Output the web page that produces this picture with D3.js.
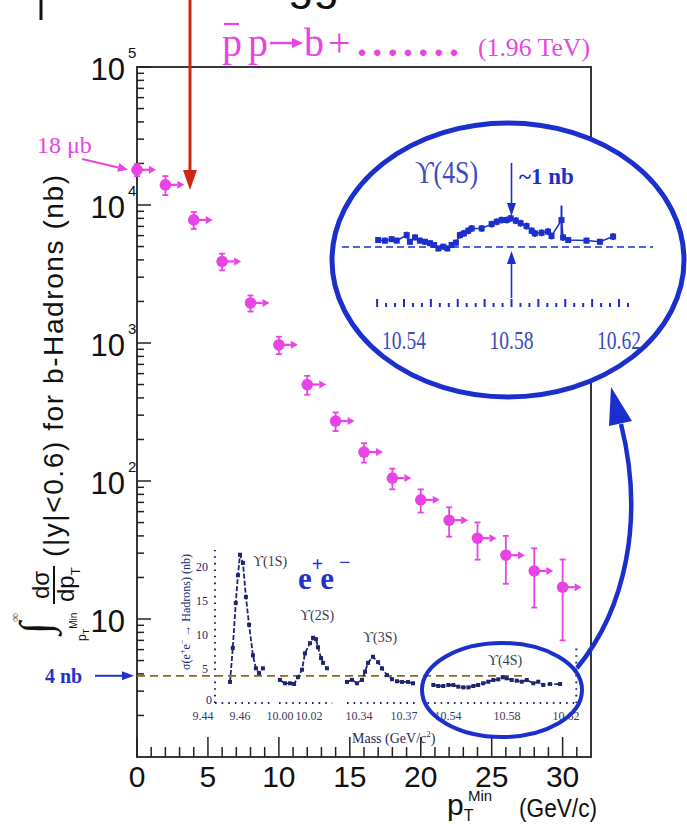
<!DOCTYPE html>
<html>
<head>
<meta charset="utf-8">
<script src="https://cdn.jsdelivr.net/npm/d3@7"></script>
<style>
  body { margin: 0; background: #fff; }
  svg { display: block; }
</style>
</head>
<body>
<svg id="chart"></svg>
<script>
// ---------------- data ----------------
// b-hadron cross section above pT min (nb)
let ptMin = [0, 2, 4, 6, 8, 10, 12, 14, 16, 18, 20, 22, 24, 26, 28, 30]
let sigma = [18000, 14000, 7800, 3900, 1950, 970, 500, 272, 162, 105, 73, 52, 38.5, 29, 22.3, 17]
let sigmaErr = [1800, 2200, 1100, 540, 260, 140, 78, 42, 26, 18, 14, 12.5, 11.6, 11, 10.2, 10]
let yTickExp = [1, 2, 3, 4, 5]
let xTickLabels = [0, 5, 10, 15, 20, 25, 30]

// e+e- -> hadrons scan (inset), mass in GeV, sigma in nb
let mass1S = [9.4546, 9.4561, 9.4577, 9.4589, 9.4600, 9.4616, 9.4632, 9.4649, 9.4670, 9.4686, 9.4703, 9.4724]
let sig1S = [3.1, 8.1, 14.7, 18.8, 21.8, 20.6, 15.6, 11.5, 7.0, 5.1, 4.4, 5.1]
let mass2S = [9.9993, 10.0034, 10.0069, 10.0097, 10.0124, 10.0152, 10.0172, 10.0207, 10.0228, 10.0248, 10.0262, 10.0283, 10.0297, 10.0324]
let sig2S = [3.4, 2.9, 2.9, 2.8, 3.8, 4.9, 7.3, 8.8, 9.6, 9.4, 8.2, 6.6, 5.9, 5.1]
let mass3S = [10.332, 10.3353, 10.3387, 10.342, 10.344, 10.346, 10.3493, 10.3527, 10.3553, 10.3587, 10.362, 10.3653, 10.3687, 10.3727, 10.376]
let sig3S = [3.1, 3.4, 2.9, 3.4, 4.6, 5.9, 6.8, 6.0, 5.1, 4.1, 3.5, 3.2, 3.1, 3.1, 2.9]
let mass4S = [10.530, 10.5334, 10.5368, 10.5402, 10.5436, 10.547, 10.5504, 10.5538, 10.5572, 10.5605, 10.5639, 10.5673, 10.5707, 10.5741, 10.5771, 10.5798, 10.5832, 10.5866, 10.59, 10.5934, 10.5978, 10.6012, 10.6046, 10.6092, 10.616]
let sig4S = [2.65, 2.5, 2.5, 2.65, 2.65, 2.4, 2.3, 2.3, 2.5, 2.65, 2.9, 3.13, 3.38, 3.48, 3.78, 3.63, 3.38, 3.28, 3.13, 3.38, 2.9, 3.13, 2.65, 2.79, 2.79]
let insetYTicks = [0, 5, 10, 15, 20]
let massTickLabels = ['9.44', '9.46', '10.00', '10.02', '10.34', '10.37', '10.54', '10.58', '10.62']
let peakLabels = ['1S', '2S', '3S', '4S']

// magnified Upsilon(4S) region
let zoomMass = [10.5304, 10.5329, 10.5354, 10.5373, 10.5410, 10.5422, 10.5441, 10.5459, 10.5478, 10.5497, 10.5512, 10.5528, 10.5546, 10.5561, 10.5577, 10.5593, 10.5608, 10.5623, 10.5639, 10.5652, 10.5689, 10.5726, 10.5745, 10.5763, 10.5782, 10.5797, 10.5816, 10.5834, 10.5856, 10.5875, 10.5887, 10.5912, 10.5936, 10.5949, 10.5986, 10.5992, 10.6011, 10.6079, 10.6129, 10.6178]
let zoomSig = [4.24, 4.22, 4.27, 4.22, 4.41, 4.18, 4.33, 4.22, 4.18, 4.13, 4.07, 3.95, 4.01, 3.95, 4.07, 4.15, 4.41, 4.47, 4.56, 4.64, 4.64, 4.79, 4.87, 4.93, 4.93, 4.99, 4.91, 4.82, 4.72, 4.56, 4.47, 4.49, 4.53, 4.38, 4.93, 4.33, 4.24, 4.22, 4.18, 4.36]
let zoomErr = [0.1, 0.1, 0.1, 0.1, 0.12, 0.1, 0.1, 0.1, 0.1, 0.1, 0.1, 0.1, 0.1, 0.1, 0.1, 0.1, 0.12, 0.12, 0.12, 0.12, 0.12, 0.12, 0.12, 0.12, 0.12, 0.12, 0.12, 0.12, 0.12, 0.12, 0.12, 0.12, 0.12, 0.12, 0.5, 0.12, 0.1, 0.1, 0.1, 0.12]
let zoomTickLabels = ['10.54', '10.58', '10.62']

// ---------------- drawing ----------------
let width = 687
let height = 827
let magenta = '#e844e4'
let blue = '#1b2fcc'
let navy = '#1e2470'
let sans = "'Liberation Sans Narrow', 'Arial Narrow', 'Liberation Sans', Arial, sans-serif"
let serif = "'Liberation Serif', 'Times New Roman', 'DejaVu Serif', serif"

let svg = d3.select('#chart').attr('width', width).attr('height', height)

let arrow = (g, x1, y1, x2, y2, color, w, hl, hw) => {
  let a = Math.atan2(y2 - y1, x2 - x1)
  let bx = x2 - hl * Math.cos(a), by = y2 - hl * Math.sin(a)
  g.append('line').attr('x1', x1).attr('y1', y1).attr('x2', bx).attr('y2', by)
    .attr('stroke', color).attr('stroke-width', w)
  let px = -Math.sin(a) * hw / 2, py = Math.cos(a) * hw / 2
  g.append('path')
    .attr('d', `M${x2},${y2}L${bx + px},${by + py}L${bx - px},${by - py}Z`)
    .attr('fill', color)
}

// main scales
let xScale = d3.scaleLinear().domain([0, 32]).range([137, 591])
let yScale = d3.scaleLog().domain([1, 1e5]).range([757, 67])

// cut-off title remnants at the very top
svg.append('line').attr('x1', 41).attr('y1', 0).attr('x2', 41).attr('y2', 20)
  .attr('stroke', '#111').attr('stroke-width', 3)
svg.append('text').attr('x', 288).attr('y', -1).attr('font-family', sans)
  .attr('font-size', 46).attr('fill', '#111').text('gg')

// frame
svg.append('rect').attr('x', xScale(0)).attr('y', yScale(1e5))
  .attr('width', xScale(32) - xScale(0)).attr('height', yScale(1) - yScale(1e5))
  .attr('fill', 'none').attr('stroke', '#222').attr('stroke-width', 1.8)

// x ticks
let xt = svg.append('g')
d3.range(0, 32).forEach(v => {
  let len = v % 5 === 0 ? 20 : 10
  xt.append('line').attr('x1', xScale(v)).attr('x2', xScale(v))
    .attr('y1', yScale(1)).attr('y2', yScale(1) - len)
    .attr('stroke', '#222').attr('stroke-width', 1.5)
})
xTickLabels.forEach(v => {
  svg.append('text').attr('x', xScale(v)).attr('y', 787)
    .attr('text-anchor', 'middle').attr('font-family', sans).attr('font-size', 30)
    .attr('fill', '#111').text(v)
})

// y ticks
let yt = svg.append('g')
yScale.ticks().forEach(v => {
  let major = Math.abs(Math.log10(v) - Math.round(Math.log10(v))) < 1e-9
  if (v === 1) return
  yt.append('line').attr('x1', xScale(0)).attr('x2', xScale(0) + (major ? 14 : 7))
    .attr('y1', yScale(v)).attr('y2', yScale(v))
    .attr('stroke', '#222').attr('stroke-width', 1.5)
})
yTickExp.forEach(e => {
  let yy = yScale(Math.pow(10, e))
  svg.append('text').attr('x', 125).attr('y', yy + 13)
    .attr('text-anchor', 'end').attr('font-family', sans).attr('font-size', 31)
    .attr('fill', '#111').text('10')
  if (e > 1) {
    svg.append('text').attr('x', 128).attr('y', yy - 9)
      .attr('font-family', sans).attr('font-size', 15)
      .attr('fill', '#111').text(e)
  }
})

// y axis title (rotated)
let yl = svg.append('g').attr('transform', 'rotate(-90)').attr('fill', '#111')
yl.append('text').attr('x', -557).attr('y', 63)
  .attr('font-family', sans).attr('font-size', 28)
  .attr('textLength', 382).attr('lengthAdjust', 'spacing')
  .text('(|y|<0.6) for b-Hadrons (nb)')
yl.append('text').attr('x', -585).attr('y', 49).attr('text-anchor', 'middle')
  .attr('font-family', sans).attr('font-size', 24).text('dσ')
yl.append('line').attr('x1', -604).attr('x2', -566).attr('y1', 54).attr('y2', 54)
  .attr('stroke', '#111').attr('stroke-width', 2)
let dp = yl.append('text').attr('x', -602).attr('y', 74)
  .attr('font-family', sans).attr('font-size', 24)
dp.append('tspan').text('dp')
dp.append('tspan').attr('font-size', 13).attr('dy', 6).text('T')
yl.append('text').attr('x', -634).attr('y', 50)
  .attr('font-family', serif).attr('font-size', 44).text('∫')
yl.append('text').attr('x', -622).attr('y', 19)
  .attr('font-family', serif).attr('font-size', 13).attr('fill', '#666').text('∞')
let lim = yl.append('text').attr('x', -641).attr('y', 86)
  .attr('font-family', sans).attr('font-size', 12)
lim.append('tspan').text('p')
lim.append('tspan').attr('font-size', 9).attr('dy', 3).text('T')
lim.append('tspan').attr('font-size', 10).attr('dy', -12).text('Min')

// x axis title
let xl = svg.append('text').attr('y', 815)
  .attr('font-family', sans).attr('font-size', 30).attr('fill', '#111')
xl.append('tspan').attr('x', 447).text('p')
xl.append('tspan').attr('font-size', 16).attr('dy', 6).text('T')
xl.append('tspan').attr('x', 468).attr('font-size', 15).attr('dy', -20).text('Min')
xl.append('tspan').attr('x', 519).attr('dy', 16).attr('font-size', 26)
  .attr('textLength', 78).attr('lengthAdjust', 'spacingAndGlyphs').text('(GeV/c)')

// ---------------- inset: e+e- scan ----------------
let insetX = d3.scaleLinear()
  .domain([9.44, 9.46, 9.48, 9.99, 10.00, 10.02, 10.04, 10.33, 10.34, 10.37, 10.38, 10.525, 10.54, 10.58, 10.62])
  .range([203, 240, 277, 278, 280, 309, 338, 344, 359, 404, 419, 426, 448, 507, 566])
let insetY = d3.scaleLinear().domain([0, 20]).range([703, 567])

let inset = svg.append('g')
// dotted axes
let axSegs = [[9.4465, 9.476], [9.995, 10.036], [10.332, 10.38], [10.526, 10.627]]
axSegs.forEach(s => {
  inset.append('line').attr('x1', insetX(s[0])).attr('x2', insetX(s[1]))
    .attr('y1', insetY(0)).attr('y2', insetY(0))
    .attr('stroke', navy).attr('stroke-width', 2).attr('stroke-dasharray', '1.6,5')
})
inset.append('line').attr('x1', insetX(9.4465)).attr('x2', insetX(9.4465))
  .attr('y1', insetY(0)).attr('y2', insetY(22.5))
  .attr('stroke', navy).attr('stroke-width', 2).attr('stroke-dasharray', '1.6,5')
inset.append('line').attr('x1', insetX(10.627)).attr('x2', insetX(10.627))
  .attr('y1', insetY(0)).attr('y2', insetY(8.5))
  .attr('stroke', navy).attr('stroke-width', 2).attr('stroke-dasharray', '1.6,5')

insetYTicks.forEach(v => {
  inset.append('text').attr('x', v === 0 ? 212 : 208).attr('y', insetY(v) + (v === 0 ? 1 : 4))
    .attr('text-anchor', 'end').attr('font-family', serif).attr('font-size', 12)
    .attr('fill', navy).text(v)
})
massTickLabels.forEach(t => {
  inset.append('text').attr('x', insetX(+t)).attr('y', 720)
    .attr('text-anchor', 'middle').attr('font-family', serif).attr('font-size', 12)
    .attr('fill', '#3a3a66').text(t)
})
let ml = inset.append('text').attr('x', 352).attr('y', 743)
  .attr('font-family', serif).attr('font-size', 14).attr('fill', '#2a2a55')
ml.append('tspan').text('Mass (GeV/c')
ml.append('tspan').attr('font-size', 9).attr('dy', -6).text('2')
ml.append('tspan').attr('dy', 6).text(')')

let il = inset.append('text').attr('transform', 'translate(190,612) rotate(-90)')
  .attr('text-anchor', 'middle').attr('font-family', serif).attr('font-size', 12)
  .attr('fill', navy)
il.append('tspan').text('σ(e')
il.append('tspan').attr('font-size', 8).attr('dy', -5).text('+')
il.append('tspan').attr('dy', 5).text('e')
il.append('tspan').attr('font-size', 8).attr('dy', -5).text('−')
il.append('tspan').attr('dy', 5).text(' → Hadrons) (nb)')

// 4 nb reference line
inset.append('line').attr('x1', xScale(0)).attr('x2', insetX(10.591))
  .attr('y1', insetY(4)).attr('y2', insetY(4))
  .attr('stroke', '#8a6a1c').attr('stroke-width', 1.8).attr('stroke-dasharray', '8,5')

let scans = [[mass1S, sig1S], [mass2S, sig2S], [mass3S, sig3S], [mass4S, sig4S]]
let scanLine = d3.line().x(d => insetX(d[0])).y(d => insetY(d[1]))
scans.forEach(s => {
  let pts = s[0].map((m, i) => [m, s[1][i]])
  inset.append('path').attr('d', scanLine(pts)).attr('fill', 'none')
    .attr('stroke', navy).attr('stroke-width', 1.8).attr('stroke-dasharray', '5,2')
  inset.selectAll(null).data(pts).enter().append('rect')
    .attr('x', d => insetX(d[0]) - 2).attr('y', d => insetY(d[1]) - 2)
    .attr('width', 4).attr('height', 4).attr('fill', navy)
})

let peakPos = [[253, 566], [300, 620], [363, 642], [488, 665]]
peakLabels.forEach((p, i) => {
  inset.append('text').attr('x', peakPos[i][0]).attr('y', peakPos[i][1])
    .attr('font-family', serif).attr('font-size', 14).attr('fill', '#3a3a4a')
    .text('ϒ(' + p + ')')
})
let ee = inset.append('text').attr('x', 298).attr('y', 589)
  .attr('font-family', serif).attr('font-weight', 'bold').attr('font-size', 31).attr('fill', '#2233cc')
ee.append('tspan').text('e')
ee.append('tspan').attr('font-size', 20).attr('dy', -18).text('+')
ee.append('tspan').attr('dx', -3).attr('dy', 18).text('e')
ee.append('tspan').attr('font-size', 20).attr('dx', 5).attr('dy', -20).text('−')

// small ellipse around Upsilon(4S)
svg.append('ellipse').attr('cx', 502).attr('cy', 690).attr('rx', 80).attr('ry', 47)
  .attr('fill', 'none').attr('stroke', blue).attr('stroke-width', 4)

// curved arrow to magnified view
svg.append('path').attr('d', 'M577,668 C625,610 645,520 621,424')
  .attr('fill', 'none').attr('stroke', blue).attr('stroke-width', 4.5)
svg.append('path').attr('d', 'M611,387 L632,421 L609,426 Z').attr('fill', blue)

// ---------------- main data ----------------
let pts = ptMin.map((p, i) => ({ p: p, v: sigma[i], e: sigmaErr[i] }))
let dg = svg.append('g')
pts.forEach(d => {
  let cx = xScale(d.p), cy = yScale(d.v)
  let y1 = yScale(d.v + d.e), y2 = yScale(d.v - d.e)
  dg.append('line').attr('x1', cx).attr('x2', cx).attr('y1', y1).attr('y2', y2)
    .attr('stroke', magenta).attr('stroke-width', 1.8)
  ;[y1, y2].forEach(yy => dg.append('line').attr('x1', cx - 3).attr('x2', cx + 3)
    .attr('y1', yy).attr('y2', yy).attr('stroke', magenta).attr('stroke-width', 1.8))
  arrow(dg, cx, cy, cx + 19, cy, magenta, 2.2, 7, 8)
  dg.append('circle').attr('cx', cx).attr('cy', cy).attr('r', 5.8).attr('fill', magenta)
})

// 18 ub annotation
svg.append('text').attr('x', 37).attr('y', 153).attr('font-family', serif)
  .attr('font-size', 24).attr('fill', magenta).text('18 μb')
arrow(svg, 82, 159, xScale(0) - 9, yScale(sigma[0]), magenta, 2, 10, 9)

// 4 nb annotation
svg.append('text').attr('x', 45).attr('y', insetY(4) + 7).attr('font-family', serif)
  .attr('font-weight', 'bold').attr('font-size', 20).attr('fill', '#2233cc').text('4 nb')
arrow(svg, 95, insetY(4), xScale(0) - 3, insetY(4), '#2233cc', 2, 12, 9)

// red arrow
arrow(svg, 190, 0, 190, 190, '#cc2a14', 3, 20, 14)

// process label
let tl = svg.append('text').attr('y', 56).attr('font-family', serif)
  .attr('fill', magenta).attr('font-size', 40)
tl.append('tspan').attr('x', 222).text('p')
tl.append('tspan').attr('x', 248).text('p')
tl.append('tspan').attr('x', 304).text('b')
tl.append('tspan').attr('x', 328).text('+')
tl.append('tspan').attr('x', 357).attr('font-weight', 'bold')
  .attr('textLength', 102).attr('lengthAdjust', 'spacing').text('.......')
tl.append('tspan').attr('x', 478).attr('font-size', 25)
  .attr('textLength', 112).attr('lengthAdjust', 'spacingAndGlyphs').text('(1.96 TeV)')
svg.append('line').attr('x1', 224).attr('x2', 239).attr('y1', 24).attr('y2', 24)
  .attr('stroke', magenta).attr('stroke-width', 2.2)
arrow(svg, 270, 43, 303, 43, magenta, 2.4, 11, 10)

// ---------------- magnified Upsilon(4S) view ----------------
let bigX = d3.scaleLinear().domain([10.54, 10.62]).range([404, 619])
let bigY = d3.scaleLinear().domain([4, 5]).range([247, 218])

let zg = svg.append('g')
zg.append('ellipse').attr('cx', 508).attr('cy', 260).attr('rx', 176).attr('ry', 137)
  .attr('fill', '#fff').attr('stroke', blue).attr('stroke-width', 5)

zg.append('line').attr('x1', 342).attr('x2', 653).attr('y1', bigY(4)).attr('y2', bigY(4))
  .attr('stroke', blue).attr('stroke-width', 1.6).attr('stroke-dasharray', '7,4')

let zpts = zoomMass.map((m, i) => ({ m: m, v: zoomSig[i], e: zoomErr[i] }))
zg.append('path').attr('d', d3.line().x(d => bigX(d.m)).y(d => bigY(d.v))(zpts))
  .attr('fill', 'none').attr('stroke', blue).attr('stroke-width', 1.5)
zpts.forEach(d => {
  zg.append('line').attr('x1', bigX(d.m)).attr('x2', bigX(d.m))
    .attr('y1', bigY(d.v + d.e)).attr('y2', bigY(d.v - d.e))
    .attr('stroke', blue).attr('stroke-width', 2)
  zg.append('rect').attr('x', bigX(d.m) - 3).attr('y', bigY(d.v) - 3)
    .attr('width', 6).attr('height', 6).attr('fill', blue)
})

// tick row
d3.range(-3, 26).forEach(k => {
  let m = 10.54 + k * 0.01 / 3
  let len = k % 3 === 0 ? 8 : 4
  zg.append('line').attr('x1', bigX(m)).attr('x2', bigX(m))
    .attr('y1', 307).attr('y2', 307 - len).attr('stroke', blue).attr('stroke-width', 2)
})
zoomTickLabels.forEach(t => {
  zg.append('text').attr('x', bigX(+t)).attr('y', 349).attr('text-anchor', 'middle')
    .attr('font-family', serif).attr('font-size', 25).attr('fill', '#3a4cc0')
    .attr('textLength', 44).attr('lengthAdjust', 'spacingAndGlyphs').text(t)
})
zg.append('text').attr('x', 415).attr('y', 183).attr('font-family', serif)
  .attr('font-size', 31).attr('fill', '#3a4cc0')
  .attr('textLength', 63).attr('lengthAdjust', 'spacingAndGlyphs').text('ϒ(4S)')
zg.append('text').attr('x', 519).attr('y', 184).attr('font-family', serif)
  .attr('font-weight', 'bold').attr('font-size', 23).attr('fill', blue).text('~1 nb')

let peakX = bigX(10.58)
arrow(zg, peakX, 163, peakX, 216, blue, 1.6, 13, 9)
arrow(zg, peakX, 298, peakX, 251, blue, 1.6, 13, 9)
</script>
</body>
</html>
